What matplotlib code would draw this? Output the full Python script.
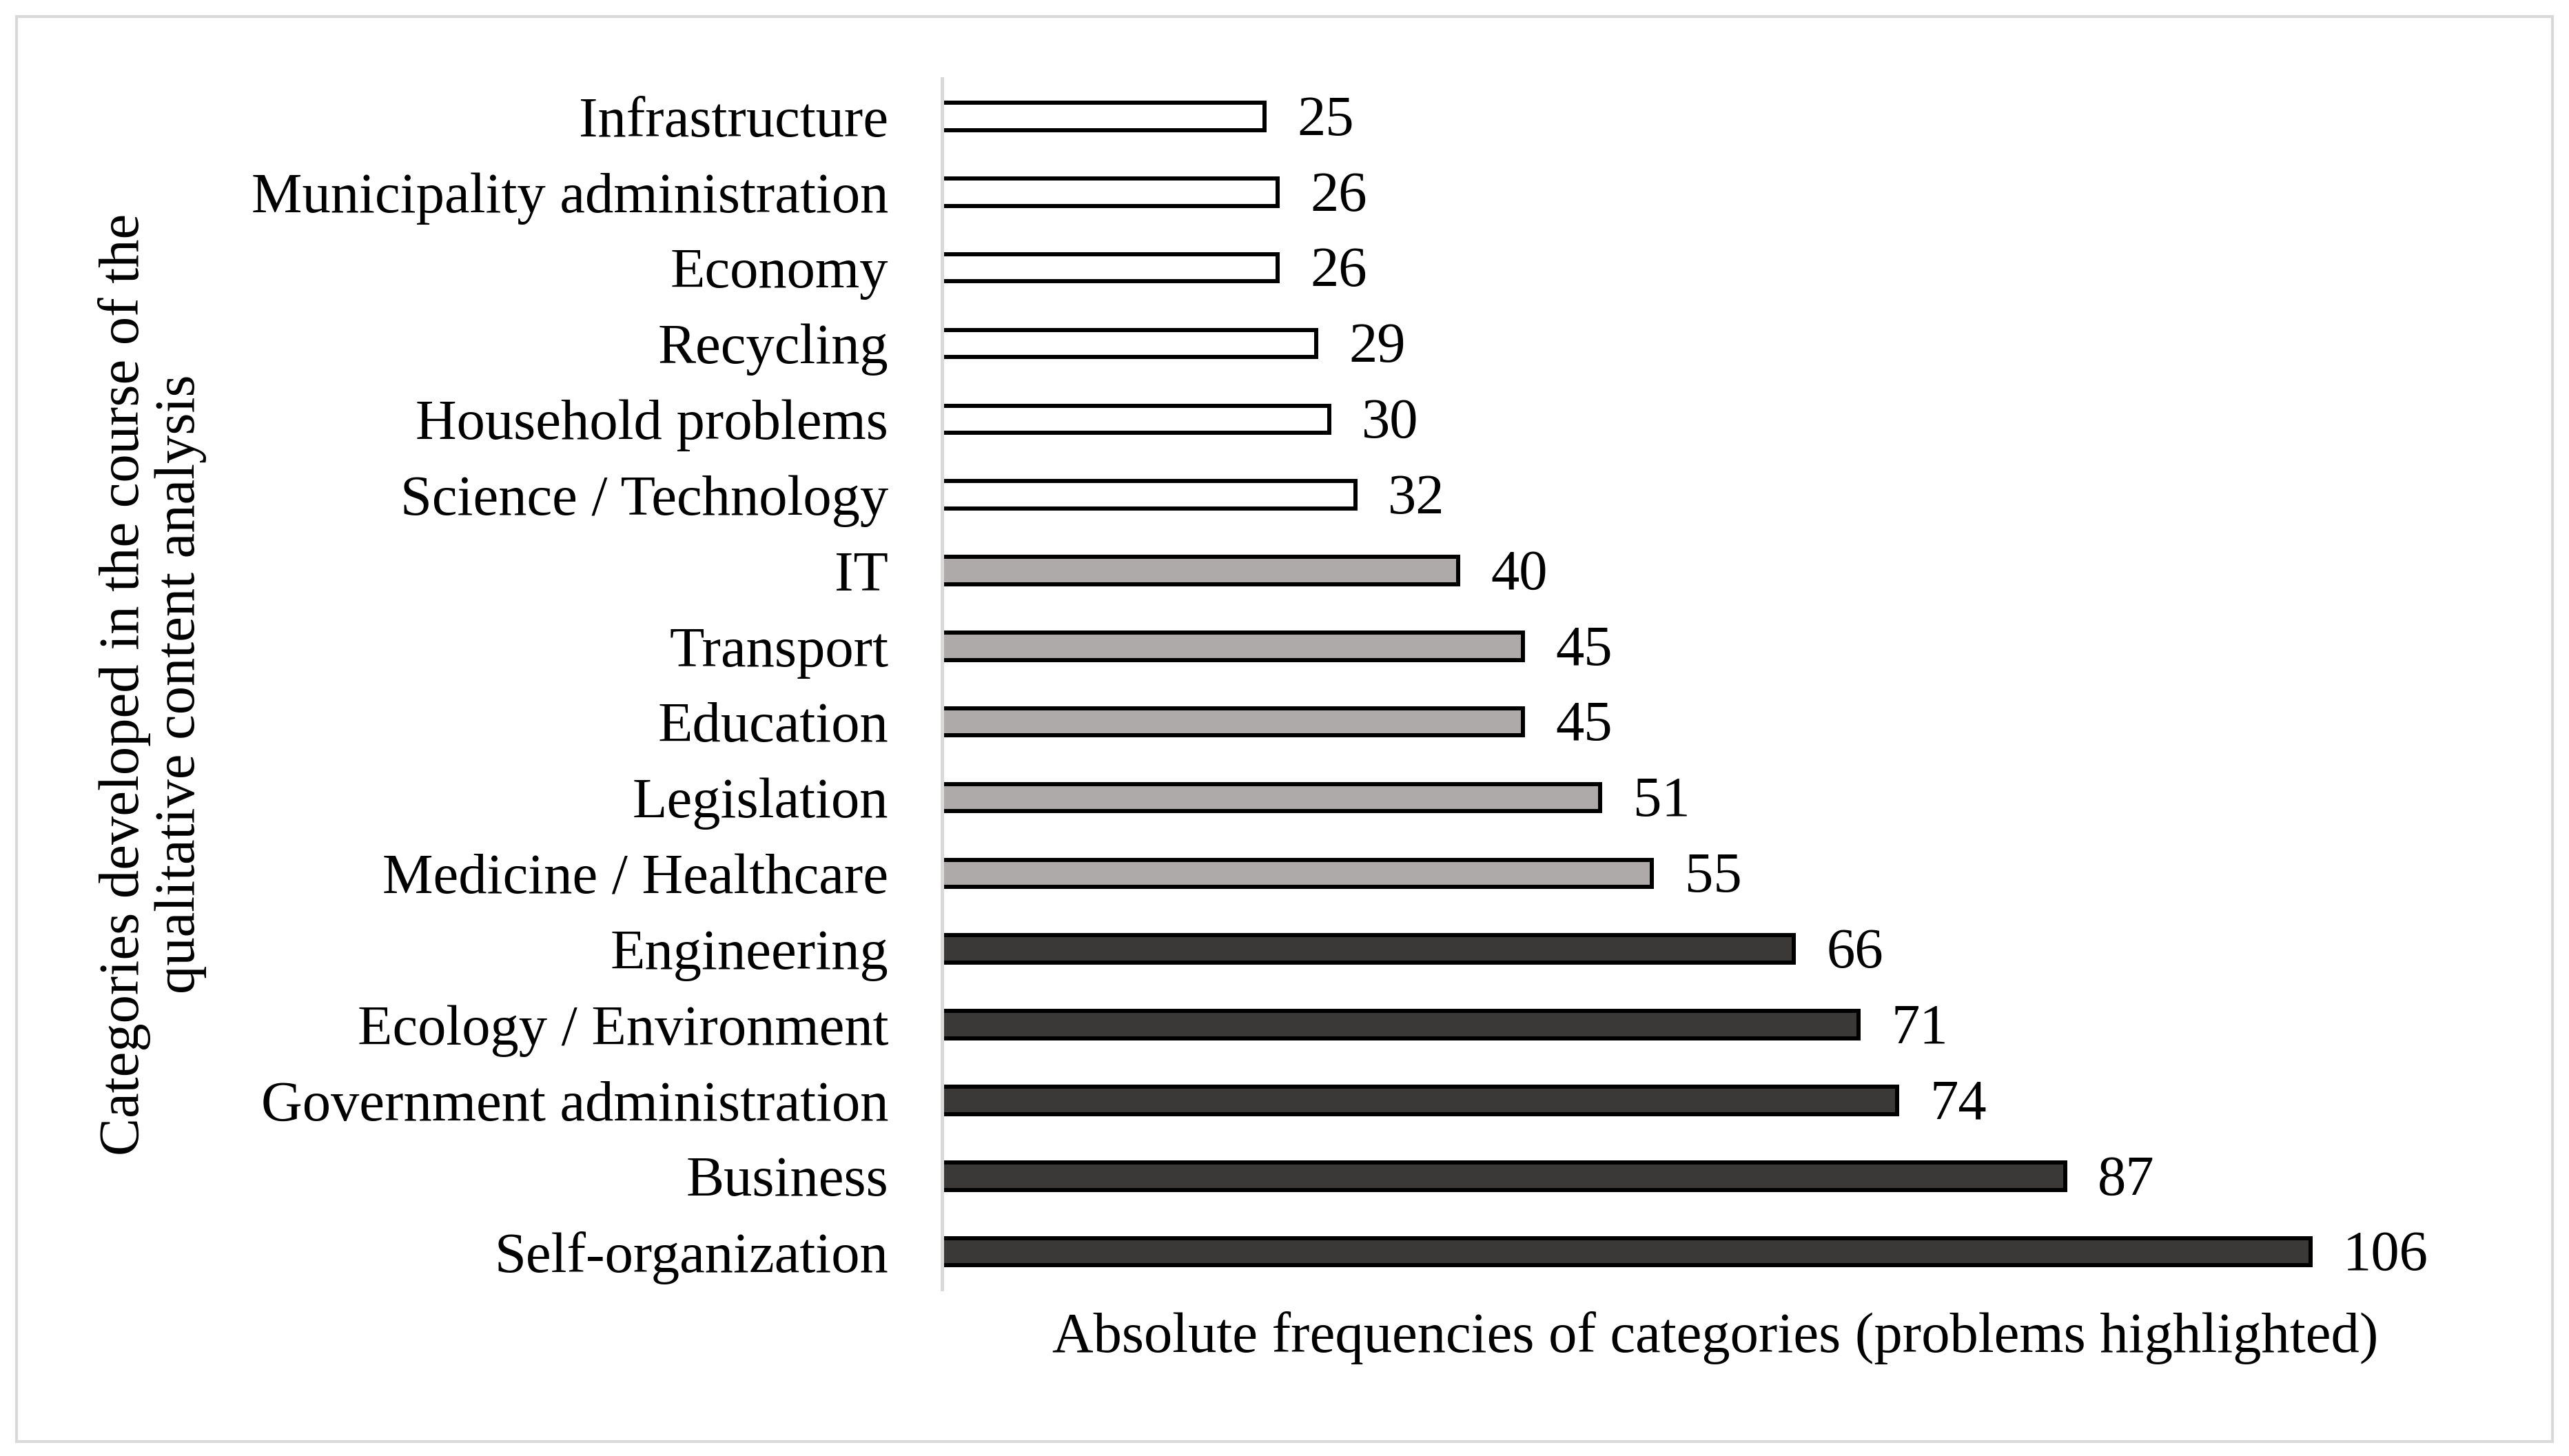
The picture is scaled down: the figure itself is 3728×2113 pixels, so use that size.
"""Horizontal bar chart: absolute frequencies of categories (problems highlighted)."""
import matplotlib

matplotlib.use("Agg")
import matplotlib.pyplot as plt  # noqa: E402
from matplotlib.patches import Rectangle  # noqa: E402

# top-to-bottom order as in the figure
categories = [
    "Infrastructure",
    "Municipality administration",
    "Economy",
    "Recycling",
    "Household problems",
    "Science / Technology",
    "IT",
    "Transport",
    "Education",
    "Legislation",
    "Medicine / Healthcare",
    "Engineering",
    "Ecology / Environment",
    "Government administration",
    "Business",
    "Self-organization",
]
counts = [25, 26, 26, 29, 30, 32, 40, 45, 45, 51, 55, 66, 71, 74, 87, 106]
# frequency group of each category: low / mid / high
groups = ["low"] * 6 + ["mid"] * 5 + ["high"] * 5
group_fill = {"low": "white", "mid": "#aeaaaa", "high": "#3b3838"}

plt.rcParams["font.family"] = ["Liberation Serif", "DejaVu Serif"]
FS = 59.5

fig = plt.figure(figsize=(37.28, 21.13), dpi=100)
ax = fig.add_axes([0.3667, 0.1143, 0.603, 0.8317])

ypos = list(range(len(categories)))
ax.barh(
    ypos,
    counts,
    height=0.36,
    color=[group_fill[g] for g in groups],
    edgecolor="black",
    linewidth=4.3,
    zorder=2,
)
for y, v in zip(ypos, counts):
    ax.annotate(
        str(v),
        xy=(v, y),
        xytext=(34, -5),
        textcoords="offset points",
        va="center",
        ha="left",
        fontsize=FS,
    )

ax.set_ylim(len(categories) - 0.5, -0.5)
ax.set_xlim(0, 120)
ax.set_yticks(ypos)
ax.set_yticklabels(categories, fontsize=FS)
ax.set_xticks([])
ax.tick_params(axis="y", length=0, pad=56)

for side in ("top", "right", "bottom"):
    ax.spines[side].set_visible(False)
ax.spines["left"].set_color("#d9d9d9")
ax.spines["left"].set_linewidth(3.6)
ax.spines["left"].set_zorder(3)

fig.text(
    0.6677, 0.081,
    "Absolute frequencies of categories (problems highlighted)",
    ha="center", va="center", fontsize=FS,
)
fig.text(
    0.0593, 0.530,
    "Categories developed in the course of the\nqualitative content analysis",
    ha="center", va="center", rotation=90, fontsize=FS, linespacing=1.1,
)

# light grey frame around the whole picture
fig.patches.append(
    Rectangle(
        (0.0064, 0.010), 0.9872, 0.9787,
        transform=fig.transFigure, fill=False,
        edgecolor="#d9d9d9", linewidth=3.0,
    )
)

fig.savefig("out.png", dpi=100)
plt.close(fig)
